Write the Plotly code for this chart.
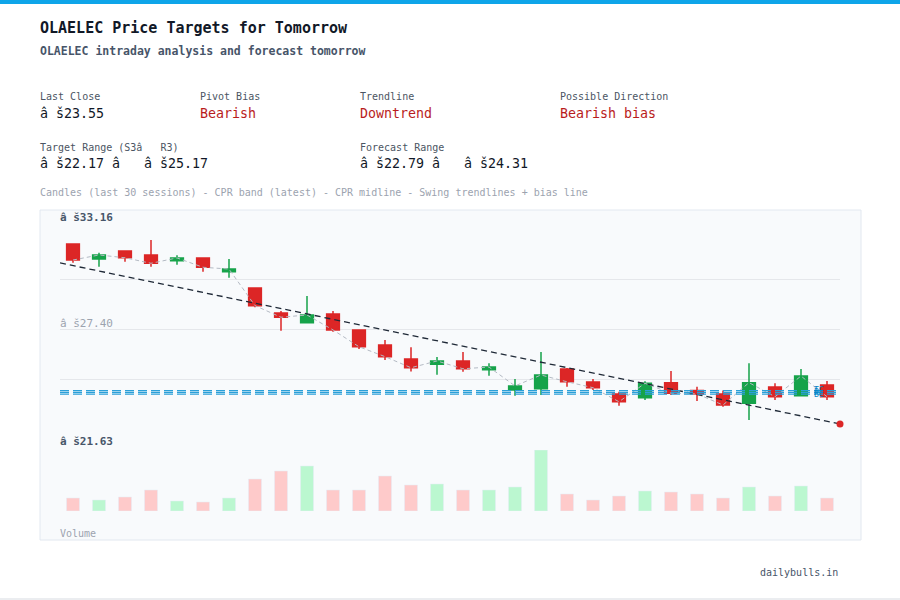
import plotly.graph_objects as go

# canvas size (px)
W, H = 900, 600
MONO = "DejaVu Sans Mono"

# --- data (last 30 sessions) ---
sessions = list(range(30))
opens = [32.35, 31.49, 31.95, 31.72, 31.39, 31.55, 30.76, 29.82, 28.37, 27.82,
         28.32, 27.40, 26.53, 25.72, 25.42, 25.61, 25.11, 23.94, 24.01, 25.15,
         24.40, 23.71, 23.49, 24.36, 23.90, 23.71, 23.17, 24.11, 23.61, 24.22]
highs = [32.37, 31.85, 31.98, 32.58, 31.70, 31.58, 31.49, 29.84, 28.49, 29.36,
         28.49, 27.42, 26.82, 26.40, 25.84, 26.13, 25.48, 24.57, 26.13, 25.20,
         24.57, 23.84, 24.44, 25.03, 24.13, 23.90, 25.48, 24.32, 25.15, 24.45]
lows = [31.27, 31.04, 31.33, 31.04, 31.16, 30.76, 30.41, 28.70, 27.35, 27.80,
        27.30, 26.30, 25.67, 25.00, 24.82, 24.99, 24.76, 23.61, 23.65, 24.13,
        23.94, 23.03, 23.36, 23.65, 23.30, 22.97, 22.21, 23.36, 23.60, 23.36]
closes = [31.43, 31.72, 31.56, 31.24, 31.55, 31.01, 30.91, 28.80, 28.13, 28.26,
          27.40, 26.43, 25.86, 25.22, 25.61, 25.16, 25.26, 24.17, 24.80, 24.41,
          24.07, 23.26, 24.32, 23.75, 23.71, 23.07, 24.36, 23.55, 24.74, 23.55]
volumes = [13, 11, 14, 21, 10, 9, 13, 32, 40, 45,
           21, 21, 35, 26, 27, 21, 21, 24, 61, 17,
           11, 15, 20, 19, 17, 13, 24, 15, 25, 13]  # millions

# cpr band of the latest session
cpr_tc = 23.90
cpr_p = 23.80
cpr_bc = 23.70

# bias line (session, price) and its projected end point
bias_sessions = [-0.5, 29.5]
bias_prices = [31.26, 21.98]

# price scale labels
price_max, price_mid, price_min = 33.16, 27.40, 21.63

# header values
ticker = "OLAELEC"
last_close = 23.55
pivot_bias = "Bearish"
trend_state = "Downtrend"
direction = "Bearish bias"
target_lo, target_hi = 22.17, 25.17
forecast_lo, forecast_hi = 22.79, 24.31

RS = "â\u00a0š"          # garbled rupee sign as shown on the page
ARROW = "â\u00a0\u00a0\u00a0"

RED, GREEN = "#dc2626", "#16a34a"
RED_TXT = "#b91c1c"


def px(x):
    return x / W


def py(y):
    return 1 - y / H


fig = go.Figure()

fig.add_trace(go.Candlestick(
    x=sessions, open=opens, high=highs, low=lows, close=closes,
    increasing=dict(line=dict(color=GREEN, width=1.5), fillcolor=GREEN),
    decreasing=dict(line=dict(color=RED, width=1.5), fillcolor=RED),
    hoverinfo="skip", showlegend=False))

# dashed path through the closes
fig.add_trace(go.Scatter(
    x=sessions, y=closes, mode="lines",
    line=dict(color="#b4bac4", width=1, dash="4px,3px"),
    hoverinfo="skip", showlegend=False))

# bias trendline + forecast dot
fig.add_trace(go.Scatter(
    x=bias_sessions, y=bias_prices, mode="lines",
    line=dict(color="#1f2937", width=1.3, dash="6px,4px"),
    hoverinfo="skip", showlegend=False))
fig.add_trace(go.Scatter(
    x=bias_sessions[-1:], y=bias_prices[-1:], mode="markers",
    marker=dict(color=RED, size=7), cliponaxis=False,
    hoverinfo="skip", showlegend=False))

# volume
vol_colors = ["#bbf7d0" if c >= o else "#fecaca" for o, c in zip(opens, closes)]
fig.add_trace(go.Bar(
    x=sessions, y=volumes, marker_color=vol_colors, width=0.5,
    yaxis="y2", hoverinfo="skip", showlegend=False))

# cpr band
fig.add_hrect(y0=cpr_bc - 0.03, y1=cpr_tc + 0.03, fillcolor="rgba(56,189,248,0.18)",
              line_width=0, layer="below")
for lvl in [cpr_tc, cpr_p, cpr_bc]:
    fig.add_hline(y=lvl, line=dict(color="#2a9fd8", width=1.4, dash="9px,4px"))
for lvl, name in [(cpr_tc, "TC"), (cpr_p, "P"), (cpr_bc, "BC")]:
    fig.add_annotation(x=28.42, y=lvl, xref="x", yref="y", text=name, showarrow=False,
                       xanchor="left", yanchor="middle",
                       font=dict(family=MONO, size=8, color="#0284c7"))

# page decorations: top bar, chart card, bottom rule
fig.add_shape(type="rect", xref="paper", yref="paper", x0=0, x1=1, y0=py(4), y1=1,
              fillcolor="#0ea5e9", line_width=0)
fig.add_shape(type="rect", xref="paper", yref="paper", x0=px(40), x1=px(861),
              y0=py(540), y1=py(210), fillcolor="#f8fafc",
              line=dict(color="#e2e8f0", width=1), layer="below")
fig.add_shape(type="line", xref="paper", yref="paper", x0=0, x1=1, y0=py(599), y1=py(599),
              line=dict(color="#e5e7eb", width=1.5))


def note(text, x, y, size, color, anchor="left"):
    # annotations carry ~2px of padding, take it back off
    shift = -2 if anchor == "left" else 2
    fig.add_annotation(x=px(x), y=py(y), xref="paper", yref="paper", text=text,
                       showarrow=False, xanchor=anchor, yanchor="middle", xshift=shift,
                       font=dict(family=MONO, size=size, color=color))


note("<b>%s Price Targets for Tomorrow</b>" % ticker, 40, 28, 15, "#111827")
note("<b>%s intraday analysis and forecast tomorrow</b>" % ticker, 40, 51, 11.5, "#475569")

note("Last Close", 40, 97, 10, "#4b5563")
note("%s%.2f" % (RS, last_close), 40, 114, 13.3, "#111827")
note("Pivot Bias", 200, 97, 10, "#4b5563")
note(pivot_bias, 200, 114, 13.3, RED_TXT)
note("Trendline", 360, 97, 10, "#4b5563")
note(trend_state, 360, 114, 13.3, RED_TXT)
note("Possible Direction", 560, 97, 10, "#4b5563")
note(direction, 560, 114, 13.3, RED_TXT)

note("Target Range (S3" + ARROW + "R3)", 40, 147, 10, "#4b5563")
note("%s%.2f %s%s%.2f" % (RS, target_lo, ARROW, RS, target_hi), 40, 163, 13.3, "#111827")
note("Forecast Range", 360, 147, 10, "#4b5563")
note("%s%.2f %s%s%.2f" % (RS, forecast_lo, ARROW, RS, forecast_hi), 360, 163, 13.3, "#111827")

note("Candles (last 30 sessions) - CPR band (latest) - CPR midline - Swing trendlines + bias line",
     40, 192, 10, "#9ca3af")

note("<b>%s%.2f</b>" % (RS, price_max), 60, 218, 11, "#475569")
note("%s%.2f" % (RS, price_mid), 60, 323, 11, "#9ca3af")
note("<b>%s%.2f</b>" % (RS, price_min), 60, 441, 11, "#475569")
note("Volume", 60, 533, 10, "#9ca3af")
note("dailybulls.in", 838, 572, 10, "#475569", anchor="right")

grid = "#e5e7eb"
fig.update_layout(
    width=W, height=H,
    margin=dict(l=0, r=0, t=0, b=0),
    paper_bgcolor="white",
    plot_bgcolor="rgba(0,0,0,0)",
    showlegend=False,
    xaxis=dict(domain=[px(60), px(840)], range=[-0.5, 29.5], showgrid=False,
               showticklabels=False, zeroline=False, rangeslider=dict(visible=False),
               fixedrange=True),
    yaxis=dict(domain=[py(430), py(230)], range=[price_min, price_max],
               tickvals=[price_min, (price_min + price_mid) / 2, price_mid,
                         (price_mid + price_max) / 2, price_max],
               showticklabels=False, gridcolor=grid, zeroline=False),
    yaxis2=dict(domain=[py(511), py(450)], range=[0, max(volumes)], tickvals=[max(volumes)],
                showticklabels=False, gridcolor=grid, zeroline=False, anchor="x"),
)

# page body has a default margin; drop it so the figure fills the window
fig.write_html("out.html", config={"displayModeBar": False},
               post_script="document.body.style.margin='0';")
